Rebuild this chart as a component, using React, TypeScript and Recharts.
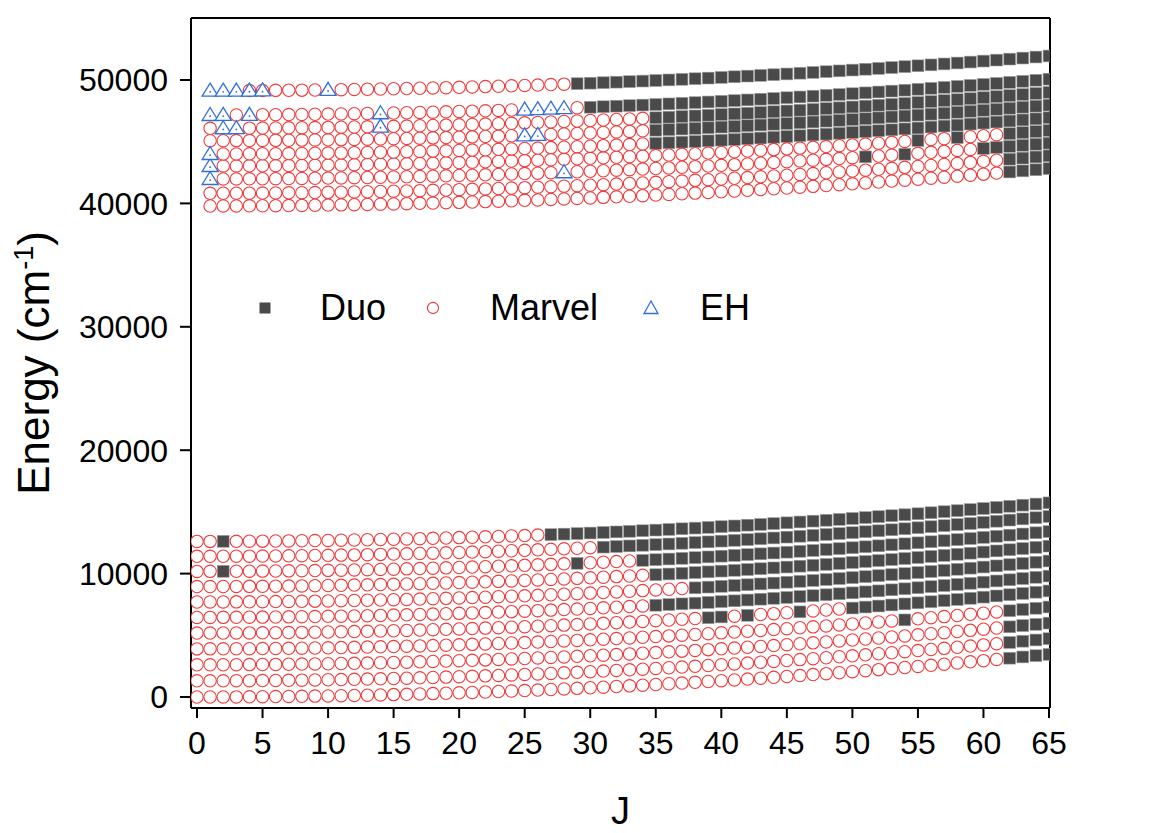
import { ScatterChart, Scatter, XAxis, YAxis, Legend } from 'recharts'

const FONT = '"Liberation Sans", Arial, Helvetica, sans-serif'
const J_MAX = 65

// lower manifold: band origins (J=0) and rotational constants
const lowerOrigin = [0, 1310, 2610, 3900, 5180, 6450, 7700, 8950, 10180, 11400, 12610]
const lowerB = [0.805, 0.796, 0.788, 0.791, 0.796, 0.781, 0.774, 0.764, 0.752, 0.752, 0.728]
const lowerMarvelLastJ = [61, 61, 61, 61, 49, 34, 37, 34, 33, 30, 26]
const lowerDuoGaps = [[], [], [], [54], [39, 40, 42, 46], [], [], [], [2, 29], [], [2]]

// upper manifold (starts at J=1), last entry is the isolated top band
const upperOrigin = [39788, 40817, 41976, 43030, 44002, 45080, 46085, 47163, 49132]
const upperB = [0.706, 0.708, 0.677, 0.671, 0.685, 0.673, 0.679, 0.677, 0.656]
const upperMarvelLastJ = [61, 61, 59, 61, 34, 34, 34, 29, 28]
const upperDuoGaps = [[], [], [51, 54], [55, 58], [], [], [], [], []]
const upperEhJ = [[], [], [1, 28], [1], [1], [25, 26], [2, 3, 14], [1, 2, 4, 14, 25, 26, 27, 28], [1, 2, 3, 4, 5, 10]]
const upperEhWithMarvel = [[], [], [], [], [], [], [], [], [4, 5]]

const xTicks = [0, 5, 10, 15, 20, 25, 30, 35, 40, 45, 50, 55, 60, 65]
const xMinorTicks = [2.5, 7.5, 12.5, 17.5, 22.5, 27.5, 32.5, 37.5, 42.5, 47.5, 52.5, 57.5, 62.5]
const yTicks = [0, 10000, 20000, 30000, 40000, 50000]
const yMinorTicks = [5000, 15000, 25000, 35000, 45000, 55000]

type Pt = { J: number; E: number }
const duo: Pt[] = []
const marvel: Pt[] = []
const eh: Pt[] = []

function addManifold(
  origin: number[],
  rot: number[],
  jMin: number,
  lastJ: number[],
  gaps: number[][],
  ehJ: number[][],
  ehShared: number[][],
) {
  origin.forEach((t, b) => {
    for (let J = jMin; J <= J_MAX; J++) {
      const E = t + rot[b] * J * (J + 1)
      const isEh = ehJ[b].includes(J)
      if (isEh) eh.push({ J, E })
      if (isEh && !ehShared[b].includes(J)) continue
      if (J <= lastJ[b] && !gaps[b].includes(J)) marvel.push({ J, E })
      else duo.push({ J, E })
    }
  })
}

const none = lowerOrigin.map(() => [] as number[])
addManifold(lowerOrigin, lowerB, 0, lowerMarvelLastJ, lowerDuoGaps, none, none)
addManifold(upperOrigin, upperB, 1, upperMarvelLastJ, upperDuoGaps, upperEhJ, upperEhWithMarvel)

const DUO_FILL = '#4a4a4a'
const MARVEL_RED = '#f03a3a'
const EH_BLUE = '#2f6fdc'

const DuoShape = (p: any) => (
  <rect x={p.cx - 5.9} y={p.cy - 5.9} width={11.8} height={11.8} fill={DUO_FILL} stroke="#9c9c9c" strokeWidth={0.6} />
)
const MarvelShape = (p: any) => (
  <circle cx={p.cx} cy={p.cy} r={6.2} fill="#fff" stroke={MARVEL_RED} strokeWidth={1.1} />
)
const EhShape = (p: any) => (
  <g>
    <path
      d={`M${p.cx},${p.cy - 7.5} L${p.cx + 8},${p.cy + 5.5} L${p.cx - 8},${p.cy + 5.5} Z`}
      fill="#fff"
      stroke={EH_BLUE}
      strokeWidth={1.3}
    />
    <circle cx={p.cx} cy={p.cy + 1.2} r={0.9} fill={EH_BLUE} />
  </g>
)

const XTitle = () => (
  <text x={620.5} y={824} textAnchor="middle" fontSize={38} fontFamily={FONT} fill="#000">
    J
  </text>
)

const YTitle = () => (
  <text transform="translate(49, 363) rotate(-90)" textAnchor="middle" fontSize={44} fontFamily={FONT} fill="#000">
    Energy (cm
    <tspan dy={-16} fontSize={27}>-1</tspan>
    <tspan dy={16}>)</tspan>
  </text>
)

function LegendBox() {
  const ty = 320
  return (
    <svg width={1163} height={833} style={{ position: 'absolute', left: 0, top: 0, pointerEvents: 'none' }}>
      <rect x={259.5} y={302.5} width={11} height={11} fill={DUO_FILL} />
      <text x={320} y={ty} fontSize={36} fontFamily={FONT} fill="#000">Duo</text>
      <circle cx={433} cy={308} r={5.6} fill="#fff" stroke={MARVEL_RED} strokeWidth={1.1} />
      <text x={490} y={ty} fontSize={36} fontFamily={FONT} fill="#000">Marvel</text>
      <path d="M651,301 L658,313.5 L644,313.5 Z" fill="#fff" stroke={EH_BLUE} strokeWidth={1.3} />
      <text x={700} y={ty} fontSize={36} fontFamily={FONT} fill="#000">EH</text>
    </svg>
  )
}

const axisLine = { stroke: '#000', strokeWidth: 2 }
const tickLine = { stroke: '#000', strokeWidth: 2 }
const tickText = { fontSize: 32, fill: '#000', fontFamily: FONT }
const X_DOMAIN: [number, number] = [-0.458, 65.076]
const Y_DOMAIN: [number, number] = [-891, 55024]

export default function App() {
  return (
    <div style={{ position: 'absolute', left: 0, top: 0, width: 1163, height: 833, background: '#fff' }}>
      <ScatterChart width={1163} height={833} margin={{ top: 16, right: 111, bottom: 123, left: 189 }}>
        <XAxis
          xAxisId="x"
          dataKey="J"
          type="number"
          domain={X_DOMAIN}
          allowDataOverflow
          ticks={xTicks}
          interval={0}
          height={1}
          tickSize={10}
          tickMargin={13}
          tick={tickText}
          axisLine={axisLine}
          tickLine={tickLine}
          label={<XTitle />}
        />
        <XAxis
          xAxisId="xMinor"
          type="number"
          domain={X_DOMAIN}
          allowDataOverflow
          ticks={xMinorTicks}
          interval={0}
          height={1}
          tickSize={5}
          tick={false}
          axisLine={false}
          tickLine={tickLine}
        />
        <XAxis
          xAxisId="xTop"
          orientation="top"
          type="number"
          domain={X_DOMAIN}
          allowDataOverflow
          ticks={xTicks}
          interval={0}
          height={1}
          tickSize={-10}
          tick={false}
          axisLine={axisLine}
          tickLine={tickLine}
        />
        <XAxis
          xAxisId="xTopMinor"
          orientation="top"
          type="number"
          domain={X_DOMAIN}
          allowDataOverflow
          ticks={xMinorTicks}
          interval={0}
          height={1}
          tickSize={-7}
          tick={false}
          axisLine={false}
          tickLine={tickLine}
        />
        <YAxis
          yAxisId="y"
          dataKey="E"
          type="number"
          domain={Y_DOMAIN}
          allowDataOverflow
          ticks={yTicks}
          interval={0}
          width={1}
          tickSize={11}
          tickMargin={12}
          tick={tickText}
          axisLine={axisLine}
          tickLine={tickLine}
          label={<YTitle />}
        />
        <YAxis
          yAxisId="yMinor"
          type="number"
          domain={Y_DOMAIN}
          allowDataOverflow
          ticks={yMinorTicks}
          interval={0}
          width={1}
          tickSize={5}
          tick={false}
          axisLine={false}
          tickLine={tickLine}
        />
        <YAxis
          yAxisId="yRight"
          orientation="right"
          type="number"
          domain={Y_DOMAIN}
          allowDataOverflow
          ticks={yTicks}
          interval={0}
          width={1}
          tickSize={-11}
          tick={false}
          axisLine={axisLine}
          tickLine={tickLine}
        />
        <YAxis
          yAxisId="yRightMinor"
          orientation="right"
          type="number"
          domain={Y_DOMAIN}
          allowDataOverflow
          ticks={yMinorTicks}
          interval={0}
          width={1}
          tickSize={-7}
          tick={false}
          axisLine={false}
          tickLine={tickLine}
        />
        <Legend
          layout="horizontal"
          verticalAlign="middle"
          align="center"
          wrapperStyle={{ position: 'absolute', left: 0, top: 0, width: 1163, height: 833, margin: 0 }}
          content={() => <LegendBox />}
        />
        <Scatter name="Duo" data={duo} xAxisId="x" yAxisId="y" shape={DuoShape} isAnimationActive={false} />
        <Scatter name="Marvel" data={marvel} xAxisId="x" yAxisId="y" shape={MarvelShape} isAnimationActive={false} />
        <Scatter name="EH" data={eh} xAxisId="x" yAxisId="y" shape={EhShape} isAnimationActive={false} />
      </ScatterChart>
    </div>
  )
}
